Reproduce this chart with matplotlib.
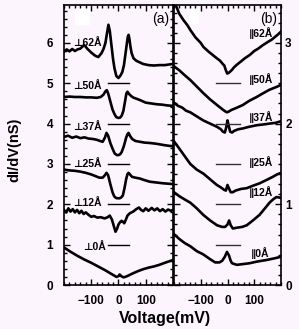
import matplotlib
matplotlib.use("Agg")
import matplotlib.pyplot as plt
from matplotlib.ticker import MultipleLocator
from matplotlib.patches import Rectangle

plt.rcParams['font.family'] = ['Liberation Sans', 'DejaVu Sans']

# (a) perpendicular spectra, voltage in mV, dI/dV offset in nS
perp62_v = [-200, -190, -180, -170, -160, -150, -140, -126, -115, -100, -85, -74, -62, -55, -48, -42, -37, -32, -26,
            -20, -15, -8, 0, 8, 14, 20, 26, 30, 34, 37, 40, 44, 48, 55, 65, 74, 90, 110, 130, 150, 170, 190, 200]
perp62_g = [5.78, 5.84, 5.79, 5.85, 5.80, 5.84, 5.86, 5.95, 5.86, 5.76, 5.68, 5.65, 5.75, 5.85, 6.00, 6.25, 6.45, 6.30,
            5.95, 5.60, 5.38, 5.18, 5.13, 5.20, 5.28, 5.45, 5.75, 5.95, 6.15, 6.20, 6.10, 5.90, 5.75, 5.62, 5.56, 5.53,
            5.48, 5.45, 5.44, 5.45, 5.45, 5.47, 5.48]

perp50_v = [-200, -180, -160, -140, -120, -100, -80, -65, -55, -48, -43, -38, -30, -22, -15, -8, 0, 6, 12, 18, 24, 29,
            33, 38, 47, 56, 65, 80, 100, 120, 140, 160, 180, 200]
perp50_g = [4.66, 4.67, 4.66, 4.66, 4.65, 4.65, 4.64, 4.66, 4.72, 4.80, 4.83, 4.75, 4.55, 4.35, 4.24, 4.16, 4.14, 4.15,
            4.20, 4.32, 4.55, 4.75, 4.79, 4.74, 4.68, 4.64, 4.62, 4.58, 4.52, 4.50, 4.48, 4.47, 4.45, 4.44]

perp37_v = [-200, -185, -170, -155, -140, -125, -110, -95, -80, -68, -58, -50, -44, -38, -30, -22, -14, -6, 0, 6, 12,
            20, 28, 33, 37, 42, 50, 62, 78, 95, 115, 140, 165, 185, 200]
perp37_g = [3.67, 3.70, 3.65, 3.68, 3.64, 3.66, 3.63, 3.62, 3.60, 3.57, 3.55, 3.65, 3.77, 3.70, 3.52, 3.38, 3.26, 3.22,
            3.22, 3.24, 3.30, 3.45, 3.65, 3.74, 3.77, 3.70, 3.62, 3.57, 3.55, 3.53, 3.52, 3.50, 3.47, 3.45, 3.44]

perp25_v = [-200, -180, -160, -140, -120, -100, -85, -70, -58, -50, -44, -38, -30, -22, -16, -10, -4, 4, 10, 16, 22,
            28, 33, 37, 42, 50, 62, 78, 95, 115, 140, 165, 185, 200]
perp25_g = [2.86, 2.84, 2.83, 2.81, 2.78, 2.74, 2.70, 2.66, 2.66, 2.72, 2.78, 2.72, 2.50, 2.30, 2.20, 2.16, 2.15, 2.15,
            2.17, 2.22, 2.40, 2.62, 2.75, 2.78, 2.74, 2.68, 2.66, 2.64, 2.60, 2.56, 2.54, 2.52, 2.51, 2.50]

perp12_v = [-200, -192, -184, -176, -168, -160, -152, -144, -136, -128, -120, -110, -100, -90, -78, -65, -51, -40, -32,
            -24, -18, -11, -5, 0, 6, 11, 16, 21, 27, 33, 42, 54, 65, 75, 83, 91, 100, 110, 122, 132, 142, 152, 162, 172,
            182, 192, 200]
perp12_g = [1.86, 1.80, 1.90, 1.82, 1.88, 1.80, 1.86, 1.78, 1.84, 1.76, 1.80, 1.74, 1.69, 1.71, 1.67, 1.68, 1.65, 1.68,
            1.72, 1.62, 1.48, 1.32, 1.40, 1.50, 1.56, 1.59, 1.57, 1.53, 1.62, 1.72, 1.78, 1.82, 1.88, 1.92, 1.86, 1.83,
            1.90, 1.84, 1.91, 1.85, 1.90, 1.83, 1.88, 1.82, 1.87, 1.84, 1.86]

perp0_v = [-200, -175, -150, -125, -100, -75, -50, -30, -15, -7, 0, 4, 10, 18, 25, 35, 50, 70, 90, 110, 130, 150,
           170, 200]
perp0_g = [0.93, 0.82, 0.72, 0.63, 0.55, 0.46, 0.37, 0.29, 0.23, 0.20, 0.22, 0.26, 0.22, 0.19, 0.20, 0.23, 0.28, 0.34,
           0.39, 0.43, 0.46, 0.50, 0.55, 0.62]

# (b) parallel spectra
par62_v = [-200, -190, -180, -164, -150, -139, -120, -100, -90, -70, -55, -40, -28, -18, -12, -6, -1, 5, 15, 25, 35,
           50, 65, 83, 100, 115, 131, 150, 165, 187, 200]
par62_g = [3.50, 3.44, 3.36, 3.28, 3.22, 3.16, 3.07, 3.00, 2.95, 2.89, 2.85, 2.81, 2.78, 2.74, 2.72, 2.66, 2.62, 2.63,
           2.66, 2.70, 2.73, 2.77, 2.81, 2.85, 2.90, 2.93, 2.97, 3.01, 3.04, 3.10, 3.14]

par50_v = [-200, -180, -160, -139, -115, -91, -65, -39, -20, -8, -2, 5, 15, 30, 57, 80, 109, 135, 157, 180, 200]
par50_g = [2.71, 2.66, 2.60, 2.54, 2.46, 2.38, 2.30, 2.23, 2.18, 2.15, 2.14, 2.15, 2.17, 2.19, 2.23, 2.28, 2.33, 2.38,
           2.42, 2.45, 2.48]

par37_v = [-200, -185, -170, -155, -139, -115, -91, -65, -39, -25, -17, -10, -5, 0, 4, 10, 17, 25, 40, 57, 80, 109,
           135, 157, 180, 200]
par37_g = [2.26, 2.22, 2.20, 2.16, 2.14, 2.09, 2.04, 2.00, 1.96, 1.93, 1.90, 1.89, 1.95, 2.04, 1.98, 1.90, 1.89, 1.91,
           1.93, 1.94, 1.96, 1.98, 1.99, 2.00, 2.01, 2.03]

par25_v = [-200, -180, -165, -150, -139, -115, -90, -65, -40, -25, -13, -6, 0, 5, 12, 20, 30, 50, 72, 95, 120, 145,
           169, 185, 200]
par25_g = [1.78, 1.69, 1.62, 1.55, 1.50, 1.43, 1.38, 1.31, 1.24, 1.21, 1.18, 1.17, 1.24, 1.20, 1.15, 1.15, 1.17, 1.19,
           1.20, 1.23, 1.26, 1.30, 1.34, 1.37, 1.39]

par12_v = [-200, -180, -160, -139, -115, -91, -65, -39, -20, -9, 0, 6, 12, 20, 35, 55, 72, 95, 120, 140, 157, 170,
           183, 200]
par12_g = [1.15, 1.10, 1.06, 1.02, 0.95, 0.87, 0.80, 0.74, 0.72, 0.72, 0.75, 0.80, 0.74, 0.70, 0.71, 0.72, 0.74, 0.80,
           0.87, 0.95, 1.02, 1.06, 1.09, 1.08]

par0_v = [-200, -180, -160, -139, -115, -91, -65, -46, -30, -20, -10, -2, 5, 12, 17, 25, 35, 60, 83, 110, 146, 175,
          200]
par0_g = [0.63, 0.57, 0.52, 0.48, 0.42, 0.38, 0.32, 0.28, 0.28, 0.30, 0.35, 0.41, 0.37, 0.30, 0.27, 0.26, 0.25, 0.26,
          0.27, 0.29, 0.31, 0.33, 0.35]

perp_labels = ["⊥62Å", "⊥50Å", "⊥37Å", "⊥25Å", "⊥12Å", "⊥0Å"]
perp_label_x = [-167, -167, -167, -167, -167, -130]
perp_label_y = [6.0, 4.92, 3.92, 3.0, 2.03, 0.93]
perp_bar_y = [5, 4, 3, 2, 1]

par_labels = ["∥62Å", "∥50Å", "∥37Å", "∥25Å", "∥12Å", "∥0Å"]
par_label_x = [80, 80, 80, 80, 80, 88]
par_label_y = [3.12, 2.55, 2.08, 1.52, 1.15, 0.40]
par_bar_y = [2.5, 2.0, 1.5, 1.0, 0.5]

bg = "#fdf5fd"
fig = plt.figure(figsize=(2.99, 3.29), dpi=100, facecolor=bg)
axL = fig.add_axes([64 / 299, 44 / 329, 109 / 299, 280 / 329])
axR = fig.add_axes([174 / 299, 44 / 329, 107 / 299, 280 / 329])

for v, g in [(perp62_v, perp62_g), (perp50_v, perp50_g), (perp37_v, perp37_g),
             (perp25_v, perp25_g), (perp12_v, perp12_g), (perp0_v, perp0_g)]:
    axL.plot(v, g, color="black", lw=1.9, solid_joinstyle="round")
for v, g in [(par62_v, par62_g), (par50_v, par50_g), (par37_v, par37_g),
             (par25_v, par25_g), (par12_v, par12_g), (par0_v, par0_g)]:
    axR.plot(v, g, color="black", lw=1.9, solid_joinstyle="round")

for y in perp_bar_y:
    axL.plot([-38, 38], [y, y], color="black", lw=1.0)
for y in par_bar_y:
    axR.plot([-43, 46], [y, y], color="#333333", lw=1.0)

for t, x, y in zip(perp_labels, perp_label_x, perp_label_y):
    axL.text(x, y, t, fontsize=7.5, fontweight="bold", ha="left", va="center")
for t, x, y in zip(par_labels, par_label_x, par_label_y):
    axR.text(x, y, t, fontsize=7.5, fontweight="bold", ha="left", va="center")

axL.text(0.97, 0.975, "(a)", transform=axL.transAxes, fontsize=10, ha="right", va="top")
axR.text(0.96, 0.975, "(b)", transform=axR.transAxes, fontsize=10, ha="right", va="top")

# white patches left in the scanned figure
axL.add_patch(Rectangle((0.10, 0.932), 0.13, 0.057, transform=axL.transAxes, color="white", zorder=1))
axR.add_patch(Rectangle((0.15, 0.936), 0.075, 0.054, transform=axR.transAxes, color="white", zorder=1))

for ax in (axL, axR):
    ax.set_facecolor(bg)
    ax.set_xlim(-200, 200)
    ax.set_xticks([-100, 0, 100])
    ax.xaxis.set_minor_locator(MultipleLocator(20))
    ax.tick_params(which="both", direction="in", top=True, bottom=True, left=True, right=True, width=1.0)
    ax.tick_params(which="major", length=4)
    ax.tick_params(which="minor", length=2.2)
    ax.tick_params(axis="x", labelsize=8.5, pad=7)
    for s in ax.spines.values():
        s.set_linewidth(1.2)
    for lab in ax.get_xticklabels():
        lab.set_fontweight("bold")

axL.set_ylim(0, 6.94)
axL.yaxis.set_major_locator(MultipleLocator(1))
axL.yaxis.set_minor_locator(MultipleLocator(0.2))
axL.tick_params(axis="y", labelsize=8.5, pad=8)
for lab in axL.get_yticklabels():
    lab.set_fontweight("bold")

axR.set_ylim(0, 3.47)
axR.yaxis.set_major_locator(MultipleLocator(1))
axR.yaxis.set_minor_locator(MultipleLocator(0.125))
axR.yaxis.tick_right()
axR.tick_params(axis="y", which="both", left=True, right=True, labelleft=False, labelright=True,
                labelsize=8.5, pad=3)
for lab in axR.get_yticklabels():
    lab.set_fontweight("bold")

fig.text(14 / 299, 1 - 150 / 329, "dI/dV(nS)", rotation=90, fontsize=10.5, fontweight="bold",
         ha="center", va="center")
fig.text(165 / 299, 1 - 318 / 329, "Voltage(mV)", fontsize=11.5, fontweight="bold", ha="center", va="center")

fig.savefig("out.png", dpi=100, facecolor=bg)
